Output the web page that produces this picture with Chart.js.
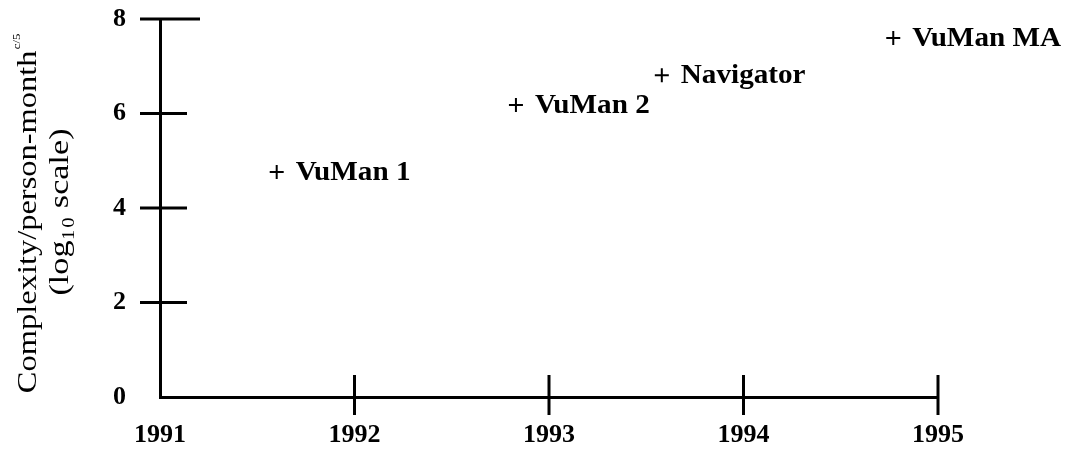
<!DOCTYPE html>
<html>
<head>
<meta charset="utf-8">
<script src="https://cdn.jsdelivr.net/npm/chart.js@4"></script>
<style>
  html, body { margin: 0; padding: 0; background: #fff; }
  #wrap { width: 1065px; height: 453px; }
</style>
</head>
<body>
<div id="wrap"><canvas id="chart"></canvas></div>
<script>
const systems = ['VuMan 1', 'VuMan 2', 'Navigator', 'VuMan MA'];
const years = [1991.6, 1992.83, 1993.58, 1994.77];
const complexity = [4.76, 6.18, 6.81, 7.6];
const yearTicks = [1991, 1992, 1993, 1994, 1995];
const levelTicks = [0, 2, 4, 6, 8];

const serif = '"Liberation Serif", "Times New Roman", serif';

// tick marks cross the axis lines in the original, so draw them by hand
const crossTicks = {
  id: 'crossTicks',
  afterDraw(chart) {
    const ctx = chart.ctx;
    const x = chart.scales.x, y = chart.scales.y;
    ctx.save();
    ctx.strokeStyle = '#000';
    ctx.lineWidth = 3;
    levelTicks.slice(1).forEach(v => {
      const py = y.getPixelForValue(v);
      ctx.beginPath();
      ctx.moveTo(x.left - 20, py);
      ctx.lineTo(x.left + (v === 8 ? 40 : 27), py);
      ctx.stroke();
    });
    yearTicks.slice(1).forEach(v => {
      const px = x.getPixelForValue(v);
      ctx.beginPath();
      ctx.moveTo(px, y.bottom - 22);
      ctx.lineTo(px, y.bottom + 18);
      ctx.stroke();
    });
    ctx.restore();
  }
};

// names next to each cross
const pointNames = {
  id: 'pointNames',
  afterDatasetsDraw(chart) {
    const ctx = chart.ctx;
    const meta = chart.getDatasetMeta(0);
    ctx.save();
    ctx.fillStyle = '#000';
    ctx.font = 'bold 27px ' + serif;
    ctx.textAlign = 'left';
    ctx.textBaseline = 'middle';
    meta.data.forEach((pt, i) => {
      ctx.save();
      ctx.translate(pt.x + 19, pt.y + 1);
      ctx.scale(1.08, 1);
      ctx.fillText(systems[i], 0, 0);
      ctx.restore();
    });
    ctx.restore();
  }
};

// rotated two-line y axis title with the small superscript
const yTitle = {
  id: 'yTitle',
  afterDraw(chart) {
    const ctx = chart.ctx;
    const cy = 214;
    ctx.save();
    ctx.fillStyle = '#000';
    ctx.translate(29, cy);
    ctx.rotate(-Math.PI / 2);
    ctx.scale(1.16, 1);
    ctx.textBaseline = 'middle';
    ctx.font = '28px ' + serif;
    const main = 'Complexity/person-month';
    const w = ctx.measureText(main).width;
    ctx.font = '11px ' + serif;
    const sw = ctx.measureText('c/5').width;
    const start = -(w + sw) / 2;
    ctx.textAlign = 'left';
    ctx.font = '28px ' + serif;
    ctx.fillText(main, start, 0);
    ctx.font = '11px ' + serif;
    ctx.fillText('c/5', start + w + 1, -12);
    ctx.restore();

    ctx.save();
    ctx.fillStyle = '#000';
    ctx.translate(61, cy - 2);
    ctx.rotate(-Math.PI / 2);
    ctx.scale(1.22, 1);
    ctx.textAlign = 'center';
    ctx.textBaseline = 'middle';
    ctx.font = '28px ' + serif;
    ctx.fillText('(log\u2081\u2080 scale)', 0, 0);
    ctx.restore();
  }
};

new Chart(document.getElementById('chart'), {
  type: 'scatter',
  data: {
    datasets: [
      {
        label: 'Systems',
        data: years.map((yr, i) => ({ x: yr, y: complexity[i] })),
        pointStyle: 'cross',
        pointRadius: 7,
        pointBorderWidth: 2,
        borderColor: '#000',
        backgroundColor: '#000'
      }
    ]
  },
  options: {
    responsive: true,
    maintainAspectRatio: false,
    animation: false,
    plugins: {
      legend: { display: false },
      tooltip: { enabled: false }
    },
    layout: {
      padding: { top: 19, right: 127, left: 0, bottom: 0 }
    },
    scales: {
      x: {
        type: 'linear',
        min: 1991,
        max: 1995,
        afterBuildTicks: s => { s.ticks = yearTicks.map(v => ({ value: v })); },
        afterFit: s => { s.height = 56; s.paddingLeft = 0; s.paddingRight = 0; },
        grid: { display: false, drawTicks: false },
        border: { display: true, color: '#000', width: 3 },
        ticks: {
          color: '#000',
          padding: 23,
          maxRotation: 0,
          font: { family: serif, size: 26, weight: 'bold' },
          callback: v => String(v)
        }
      },
      y: {
        min: 0,
        max: 8,
        afterBuildTicks: s => { s.ticks = levelTicks.map(v => ({ value: v })); },
        afterFit: s => { s.width = 160; s.paddingTop = 0; s.paddingBottom = 0; },
        grid: { display: false, drawTicks: false },
        border: { display: true, color: '#000', width: 3 },
        ticks: {
          color: '#000',
          padding: 34,
          font: { family: serif, size: 26, weight: 'bold' }
        }
      }
    }
  },
  plugins: [crossTicks, pointNames, yTitle]
});
</script>
</body>
</html>
